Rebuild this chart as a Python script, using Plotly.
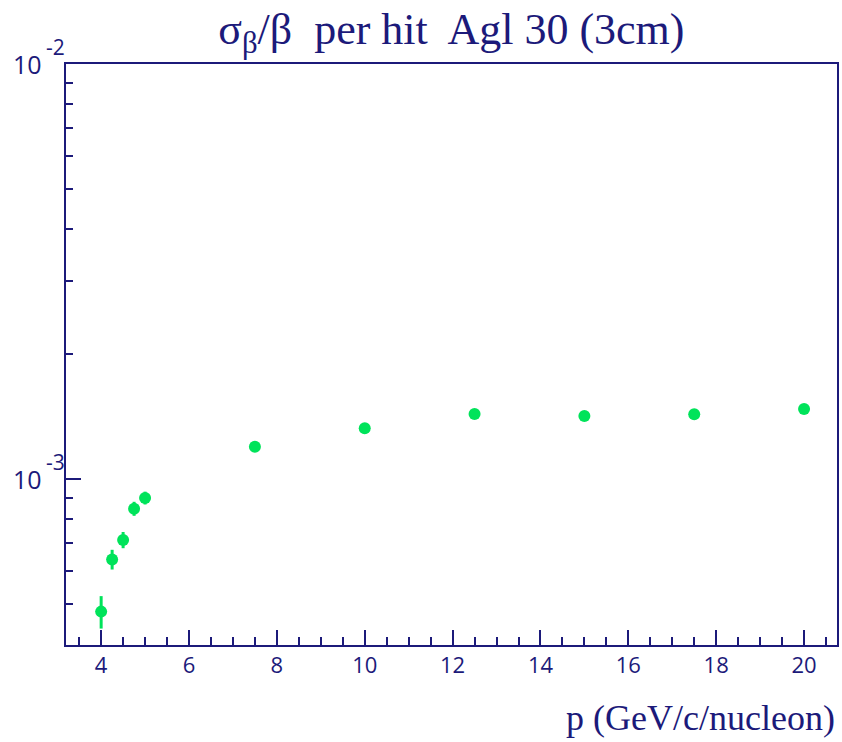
import plotly.graph_objects as go
import numpy as np

# Momentum points (GeV/c/nucleon) and per-hit velocity resolution
p_values = [4.0, 4.25, 4.5, 4.75, 5.0, 7.5, 10.0, 12.5, 15.0, 17.5, 20.0]
sigma_beta = [4.79e-4, 6.40e-4, 7.13e-4, 8.48e-4, 9.0e-4, 1.196e-3, 1.325e-3,
              1.434e-3, 1.419e-3, 1.432e-3, 1.475e-3]
sigma_err = [4.3e-5, 3.5e-5, 3.2e-5, 3.3e-5, 3.2e-5, 1.2e-5, 1.2e-5,
             1.2e-5, 1.2e-5, 1.2e-5, 1.2e-5]

x_major = [4, 6, 8, 10, 12, 14, 16, 18, 20]
x_minor = [v / 2 for v in range(7, 42)]
y_major = [1e-3, 1e-2]
y_major_exp = ["-3", "-2"]
y_minor = [5e-4, 6e-4, 7e-4, 8e-4, 9e-4, 2e-3, 3e-3, 4e-3, 5e-3, 6e-3, 7e-3, 8e-3, 9e-3]

navy = "#1c1a7a"
green = "#00e35a"
label_font = "Open Sans"

fig = go.Figure()
fig.add_trace(go.Scatter(
    x=p_values, y=sigma_beta, mode="markers",
    marker=dict(color=green, size=12, line=dict(width=0)),
    error_y=dict(type="data", array=sigma_err, symmetric=True,
                 color=green, thickness=3, width=0),
    showlegend=False,
))

fig.update_layout(
    width=842, height=742,
    margin=dict(l=66, r=3, t=64, b=97),
    plot_bgcolor="white", paper_bgcolor="white",
    title=dict(
        text="σ<sub>β</sub>/β  per hit  Agl 30 (3cm)",
        x=0.536, xanchor="center", y=0.962, yanchor="middle",
        font=dict(family="Liberation Serif", size=44, color=navy),
    ),
    xaxis=dict(
        range=[3.2, 20.75], showgrid=False, zeroline=False,
        showline=True, linecolor=navy, linewidth=2, mirror=True,
        tickmode="array", tickvals=x_major, ticktext=[str(v) for v in x_major],
        ticks="inside", ticklen=15, tickwidth=1.5, tickcolor=navy,
        tickfont=dict(family=label_font, size=22, color=navy),
        minor=dict(tickmode="array", tickvals=x_minor, ticks="inside",
                   ticklen=8, tickwidth=1.5, tickcolor=navy, showgrid=False),
    ),
    yaxis=dict(
        type="log", range=[np.log10(3.98e-4), -2], showgrid=False, zeroline=False,
        showline=True, linecolor=navy, linewidth=2, mirror=True,
        tickmode="array", tickvals=y_major, showticklabels=False,
        ticks="inside", ticklen=15, tickwidth=1.5, tickcolor=navy,
        minor=dict(tickmode="array", tickvals=y_minor, ticks="inside",
                   ticklen=7, tickwidth=1.5, tickcolor=navy, showgrid=False),
    ),
)

# Power-of-ten labels for the log axis: base and raised exponent
for val, exp in zip(y_major, y_major_exp):
    fig.add_annotation(
        text="10", xref="paper", yref="y", x=-0.029, y=np.log10(val),
        xanchor="right", yanchor="middle", showarrow=False,
        font=dict(family=label_font, size=25, color=navy),
    )
    fig.add_annotation(
        text=exp, xref="paper", yref="y", x=-0.029, y=np.log10(val),
        xanchor="left", yanchor="middle", yshift=17, showarrow=False,
        font=dict(family=label_font, size=21, color=navy),
    )

fig.add_annotation(
    text="p (GeV/c/nucleon)", xref="paper", yref="paper",
    x=1.0, y=-0.125, xanchor="right", yanchor="middle", showarrow=False,
    font=dict(family="Liberation Serif", size=36, color=navy),
)

fig.write_html("out.html")
